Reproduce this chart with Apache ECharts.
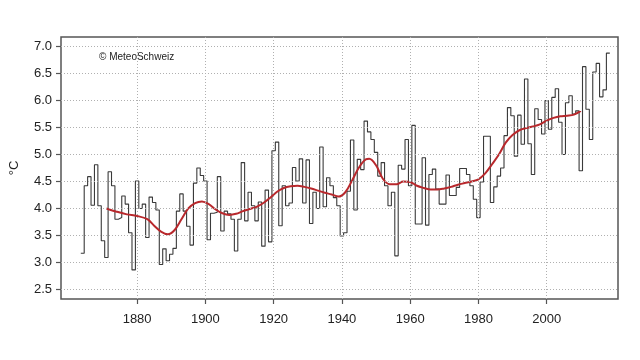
<!DOCTYPE html>
<html>
<head>
<meta charset="utf-8">
<script src="https://cdn.jsdelivr.net/npm/echarts@6/dist/echarts.min.js"></script>
<style>html,body{margin:0;padding:0;background:#fff}#c{width:640px;height:360px}</style>
</head>
<body>
<div id="c"></div>
<script>
// Annual mean temperature (°C), one value per year starting at firstYear
var firstYear = 1864;
var annualValues = [
  3.17, 4.42, 4.59, 4.06, 4.81, 4.05, 3.40, 3.09, 4.68, 4.42,  // 1864-1873
  3.80, 3.83, 4.23, 4.08, 3.55, 2.86, 4.51, 4.00, 4.08, 3.46,  // 1874-1883
  4.21, 4.11, 3.97, 2.96, 3.25, 3.03, 3.15, 3.26, 3.95, 4.27,  // 1884-1893
  3.95, 3.67, 3.32, 4.47, 4.75, 4.61, 4.51, 3.42, 3.91, 3.93,  // 1894-1903
  4.59, 3.58, 3.95, 3.90, 3.80, 3.21, 3.80, 4.85, 3.77, 4.30,  // 1904-1913
  4.05, 3.77, 4.12, 3.30, 4.34, 3.38, 5.07, 5.23, 3.68, 4.42,  // 1914-1923
  4.05, 4.10, 4.76, 4.51, 4.92, 4.10, 4.90, 3.72, 4.30, 4.00,  // 1924-1933
  5.14, 4.03, 4.57, 4.42, 4.20, 4.05, 3.49, 3.55, 4.32, 5.27,  // 1934-1943
  3.97, 4.91, 4.72, 5.62, 5.42, 5.28, 5.04, 4.60, 4.85, 4.42,  // 1944-1953
  4.05, 4.30, 3.12, 4.80, 4.73, 5.28, 4.42, 5.54, 3.71, 3.71,  // 1954-1963
  4.94, 3.69, 4.63, 4.73, 4.36, 4.08, 4.08, 4.62, 4.24, 4.24,  // 1964-1973
  4.39, 4.74, 4.74, 4.63, 4.42, 4.17, 3.83, 4.49, 5.34, 5.34,  // 1974-1983
  4.11, 4.40, 4.60, 4.75, 5.35, 5.87, 5.72, 4.97, 5.73, 5.19,  // 1984-1993
  6.40, 5.20, 4.63, 5.85, 5.65, 5.38, 6.00, 5.47, 6.06, 6.22,  // 1994-2003
  5.60, 5.00, 5.96, 6.09, 5.75, 5.81, 4.70, 6.63, 5.84, 5.28,  // 2004-2013
  6.53, 6.69, 6.07, 6.20, 6.88                                 // 2014-2018
];
// Smoothed curve
var smoothYears = [1871,1874,1877,1880,1883,1885,1887,1889,1891,1893,1895,1897,1899,1901,1903,1905,1907,1909,1911,1913,1915,1917,1919,1921,1923,1925,1927,1929,1931,1933,1935,1937,1939,1941,1943,1945,1947,1948,1950,1952,1954,1956,1958,1960,1962,1964,1966,1968,1970,1972,1974,1976,1978,1980,1982,1984,1986,1988,1990,1992,1994,1996,1998,2000,2002,2004,2006,2008,2010];
var smoothValues = [4.00,3.94,3.89,3.86,3.80,3.68,3.57,3.52,3.60,3.80,4.00,4.10,4.13,4.08,3.98,3.91,3.88,3.90,3.95,3.99,4.03,4.10,4.20,4.31,4.38,4.41,4.42,4.40,4.37,4.33,4.29,4.26,4.22,4.30,4.52,4.76,4.91,4.92,4.80,4.55,4.45,4.45,4.50,4.49,4.42,4.38,4.35,4.35,4.37,4.40,4.44,4.47,4.50,4.54,4.65,4.82,5.00,5.22,5.36,5.45,5.49,5.52,5.56,5.63,5.68,5.71,5.72,5.74,5.81];
// Axis ticks
var xTicks = [1880, 1900, 1920, 1940, 1960, 1980, 2000];
var yTicks = [2.5, 3.0, 3.5, 4.0, 4.5, 5.0, 5.5, 6.0, 6.5, 7.0];
var yAxisName = '°C';
var credit = '© MeteoSchweiz';

// Build step data: each year's value spans [year-0.5, year+0.5]
var stepData = annualValues.map(function (v, i) { return [firstYear + i - 0.5, v]; });
var lastYear = firstYear + annualValues.length - 1;
stepData.push([lastYear + 0.5, annualValues[annualValues.length - 1]]);
var smoothData = smoothYears.map(function (y, i) { return [y, smoothValues[i]]; });

var yMin = 2.5, yMax = 7.0, yr = yMax - yMin;

var font = '"Liberation Sans", Arial, Helvetica, sans-serif';
var chart = echarts.init(document.getElementById('c'), null, {renderer: 'canvas'});
chart.setOption({
  animation: false,
  backgroundColor: '#fff',
  grid: {left: 61, right: 22, top: 37, bottom: 61, containLabel: false, outerBoundsMode: 'none',
         show: true, borderColor: '#555', borderWidth: 1.5, backgroundColor: 'transparent'},
  xAxis: {
    type: 'value', min: 1857.7, max: 2020.9,
    axisLine: {show: false},
    splitLine: {show: false},
    axisTick: {show: true, inside: false, length: 5, lineStyle: {color: '#555', width: 1.2}, customValues: xTicks},
    axisLabel: {customValues: xTicks, color: '#222', fontSize: 13, fontFamily: font, margin: 14, formatter: function (v) { return String(v); }}
  },
  yAxis: {
    type: 'value', min: yMin - 0.04 * yr, max: yMax + 0.04 * yr,
    name: yAxisName, nameLocation: 'middle', nameRotate: 90, nameGap: 40,
    nameTextStyle: {color: '#222', fontSize: 13, fontFamily: font},
    axisLine: {show: false},
    splitLine: {show: false},
    axisTick: {show: true, inside: false, length: 5, lineStyle: {color: '#555', width: 1.2}, customValues: yTicks},
    axisLabel: {customValues: yTicks, color: '#222', fontSize: 13, fontFamily: font, margin: 9, formatter: function (v) { return v.toFixed(1); }}
  },
  graphic: [{
    type: 'text', left: 99, top: 52,
    style: {text: credit, fill: '#222', font: '10px ' + font}
  }],
  series: [
    {
      type: 'line', data: [], silent: true, z: 1,
      markLine: {
        silent: true, symbol: ['none', 'none'], label: {show: false},
        lineStyle: {type: [1, 2], color: '#b0b0b0', width: 1},
        data: yTicks.map(function (v) { return {yAxis: v}; }).concat(xTicks.map(function (v) { return {xAxis: v}; }))
      }
    },
    {
      type: 'line', data: stepData, step: 'end', showSymbol: false, z: 3,
      lineStyle: {color: '#3a3a3a', width: 1.1}
    },
    {
      type: 'line', data: smoothData, smooth: 0.35, showSymbol: false, z: 4,
      lineStyle: {color: '#b8282c', width: 2}
    }
  ]
});
</script>
</body>
</html>
